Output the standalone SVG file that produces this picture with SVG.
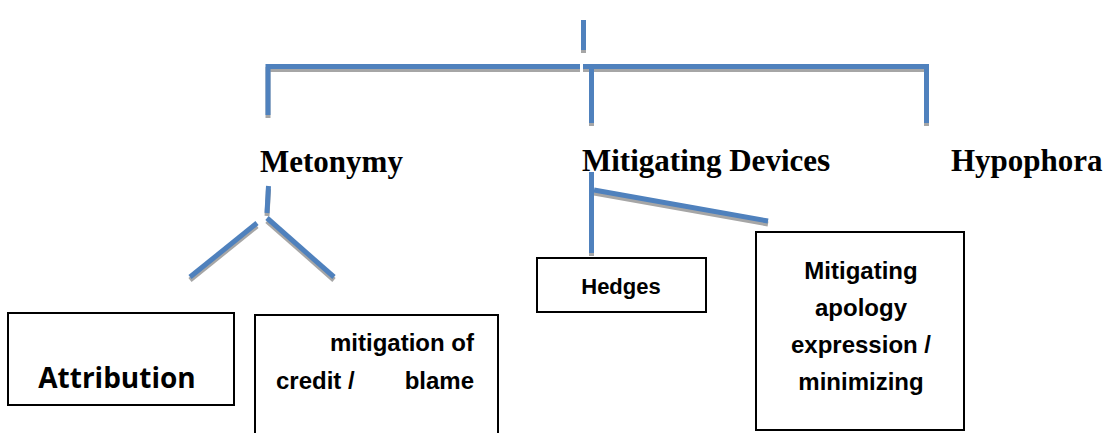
<svg xmlns="http://www.w3.org/2000/svg" xmlns:xlink="http://www.w3.org/1999/xlink" width="1109" height="433" viewBox="0 0 1109 433">
<style>
.lbl{font-family:"Liberation Serif","Times New Roman",serif;font-weight:bold;font-size:31px;fill:#000}
.box{fill:#fff;stroke:#000;stroke-width:2}
.bt{font-family:"Liberation Sans",Arial,sans-serif;font-weight:bold;font-size:24px;fill:#000}
.ht{font-family:"Liberation Sans",Arial,sans-serif;font-weight:bold;font-size:22px;fill:#000}
.at{font-family:"Open Sans","Noto Sans",sans-serif;font-weight:bold;font-size:28px;fill:#000}
.ln{fill:none;stroke:#4F81BD;stroke-width:5}
.sh{fill:none;stroke:#A6A6A6;stroke-width:5}
</style>
<rect width="1109" height="433" fill="#fff"/>
<defs>
<g id="conns">
<path d="M583.5,20 V50"/>
<path d="M268,115 V66.5 H580"/>
<path d="M583,66.5 H926.5 V123"/>
<path d="M591.5,69 V123"/>
<path d="M268.5,186 L267,213"/>
<path d="M257,223 L190,277"/>
<path d="M267,218 L334,277"/>
<path d="M591.5,172 V253"/>
<path d="M594,190 L768,221"/>
</g>
</defs>
<g id="connectors">
<use xlink:href="#conns" class="sh" transform="translate(0,3)"/>
<use xlink:href="#conns" class="ln"/>
</g>
<g id="metonymy"><text class="lbl" x="260" y="172">Metonymy</text></g>
<g id="mitigating-devices"><text class="lbl" x="582" y="171">Mitigating Device<tspan font-size="34">s</tspan></text></g>
<g id="hypophora"><text class="lbl" x="951" y="171">Hypophora</text></g>
<g id="attribution">
<rect class="box" x="8" y="313" width="226" height="92"/>
<text class="at" x="117" y="388" text-anchor="middle">Attribution</text>
</g>
<g id="mitigation-credit-blame">
<rect class="box" x="255" y="315" width="243" height="130"/>
<text class="bt" x="474" y="351" text-anchor="end">mitigation of</text>
<text class="bt" x="276" y="389">credit /</text>
<text class="bt" x="474" y="389" text-anchor="end">blame</text>
</g>
<g id="hedges">
<rect class="box" x="537" y="258" width="169" height="54"/>
<text class="ht" x="621" y="294" text-anchor="middle">Hedges</text>
</g>
<g id="mitigating-apology">
<rect class="box" x="756" y="232" width="208" height="198"/>
<text class="bt" x="861" y="279" text-anchor="middle">Mitigating</text>
<text class="bt" x="861" y="316" text-anchor="middle">apology</text>
<text class="bt" x="861" y="353" text-anchor="middle">expression /</text>
<text class="bt" x="861" y="390" text-anchor="middle">minimizing</text>
</g>
</svg>
